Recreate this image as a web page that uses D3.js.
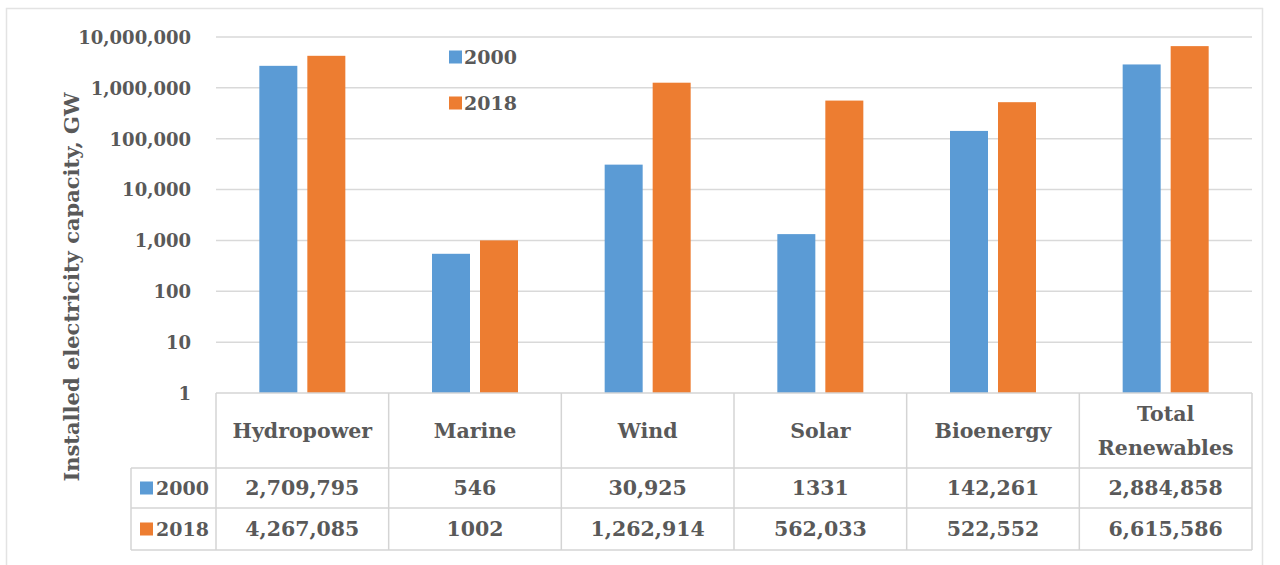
<!DOCTYPE html>
<html><head><meta charset="utf-8">
<script src="https://cdn.jsdelivr.net/npm/d3@7/dist/d3.min.js"></script>
<style>
html,body{margin:0;padding:0;background:#fff;}
svg{display:block;}
</style></head>
<body><svg id="chart" width="1280" height="565"></svg>
<script>
const categories = ["Hydropower", "Marine", "Wind", "Solar", "Bioenergy", "Total Renewables"];
const seriesNames = ["2000", "2018"];
const values2000 = [2709795, 546, 30925, 1331, 142261, 2884858];
const values2018 = [4267085, 1002, 1262914, 562033, 522552, 6615586];
const yTicks = [1, 10, 100, 1000, 10000, 100000, 1000000, 10000000];
const yTitle = "Installed electricity capacity, GW";

const colors = ["#5B9BD5", "#ED7D31"];
const series = [values2000, values2018];
const FONT = "'DejaVu Serif', serif";
const TXT = "#595959";

const svg = d3.select("#chart");
const plot = {left: 216, right: 1252, top: 37, bottom: 393};

// outer frame
svg.append("rect").attr("x", 6.5).attr("y", 8.5).attr("width", 1256).attr("height", 570)
  .attr("fill", "none").attr("stroke", "#e3e3e3").attr("stroke-width", 1.5);

const x = d3.scaleBand().domain(categories).range([plot.left, plot.right]).paddingInner(0).paddingOuter(0);
const y = d3.scaleLog().domain([1, 1e7]).range([plot.bottom, plot.top]);

// gridlines
svg.append("g").selectAll("line").data(yTicks.slice(1)).join("line")
  .attr("x1", plot.left).attr("x2", plot.right)
  .attr("y1", d => y(d)).attr("y2", d => y(d))
  .attr("stroke", "#d9d9d9").attr("stroke-width", 1.5);

// y axis labels
const yAxis = d3.axisLeft(y).tickValues(yTicks).tickFormat(d3.format(",")).tickSize(0).tickPadding(0);
const gy = svg.append("g").attr("transform", `translate(191,0)`).call(yAxis);
gy.select(".domain").remove();
gy.selectAll("text").attr("font-family", FONT).attr("font-size", 18).attr("font-weight", "bold")
  .attr("fill", TXT).attr("dy", "0.35em");

// y title
svg.append("text").attr("transform", "translate(73,287) rotate(-90)")
  .attr("text-anchor", "middle").attr("dominant-baseline", "middle")
  .attr("font-family", FONT).attr("font-size", 21).attr("font-weight", "bold").attr("fill", TXT)
  .text(yTitle);

// bars
const barW = 38, gap = 10;
series.forEach((vals, si) => {
  svg.append("g").selectAll("rect").data(vals).join("rect")
    .attr("x", (d, i) => x(categories[i]) + x.bandwidth() / 2 + (si === 0 ? -(gap / 2 + barW) : gap / 2))
    .attr("y", d => y(d))
    .attr("width", barW)
    .attr("height", d => y(1) - y(d))
    .attr("fill", colors[si]);
});

// legend
const legendY = [57, 103];
seriesNames.forEach((s, i) => {
  svg.append("rect").attr("x", 449).attr("y", legendY[i] - 6.5).attr("width", 13).attr("height", 13).attr("fill", colors[i]);
  svg.append("text").attr("x", 464).attr("y", legendY[i]).attr("dy", "0.35em")
    .attr("font-family", FONT).attr("font-size", 19).attr("font-weight", "bold").attr("fill", TXT).text(s);
});

// data table
const rowY = [393, 468, 508, 550];
const tableLeft = 131;
const tbl = svg.append("g");
const lineColor = "#d4d4d4";
tbl.append("line").attr("x1", plot.left).attr("x2", plot.right).attr("y1", rowY[0]).attr("y2", rowY[0]).attr("stroke", lineColor).attr("stroke-width", 1.5);
[1, 2, 3].forEach(r => {
  tbl.append("line").attr("x1", tableLeft).attr("x2", plot.right).attr("y1", rowY[r]).attr("y2", rowY[r]).attr("stroke", lineColor).attr("stroke-width", 1.5);
});
tbl.append("line").attr("x1", tableLeft).attr("x2", tableLeft).attr("y1", rowY[1]).attr("y2", rowY[3]).attr("stroke", lineColor).attr("stroke-width", 1.5);
categories.forEach(c => {
  tbl.append("line").attr("x1", x(c)).attr("x2", x(c)).attr("y1", rowY[0]).attr("y2", rowY[3]).attr("stroke", lineColor).attr("stroke-width", 1.5);
});
tbl.append("line").attr("x1", plot.right).attr("x2", plot.right).attr("y1", rowY[0]).attr("y2", rowY[3]).attr("stroke", lineColor).attr("stroke-width", 1.5);

// header labels
categories.forEach(c => {
  const words = c === "Total Renewables" ? ["Total", "Renewables"] : [c];
  const cx = x(c) + x.bandwidth() / 2;
  const cy = (rowY[0] + rowY[1]) / 2;
  const lh = 34;
  words.forEach((w, k) => {
    tbl.append("text").attr("x", cx).attr("y", cy + (k - (words.length - 1) / 2) * lh)
      .attr("dy", "0.35em").attr("text-anchor", "middle")
      .attr("font-family", FONT).attr("font-size", 20.5).attr("font-weight", "bold").attr("fill", TXT).text(w);
  });
});

const fmt = v => v < 10000 ? String(v) : d3.format(",")(v);
series.forEach((vals, si) => {
  const cy = (rowY[1 + si] + rowY[2 + si]) / 2;
  tbl.append("rect").attr("x", 140).attr("y", cy - 6.5).attr("width", 13).attr("height", 13).attr("fill", colors[si]);
  tbl.append("text").attr("x", 156).attr("y", cy).attr("dy", "0.35em")
    .attr("font-family", FONT).attr("font-size", 19).attr("font-weight", "bold").attr("fill", TXT).text(seriesNames[si]);
  vals.forEach((v, i) => {
    tbl.append("text").attr("x", x(categories[i]) + x.bandwidth() / 2).attr("y", cy).attr("dy", "0.35em")
      .attr("text-anchor", "middle")
      .attr("font-family", FONT).attr("font-size", 20.5).attr("font-weight", "bold").attr("fill", TXT).text(fmt(v));
  });
});
</script></body></html>
